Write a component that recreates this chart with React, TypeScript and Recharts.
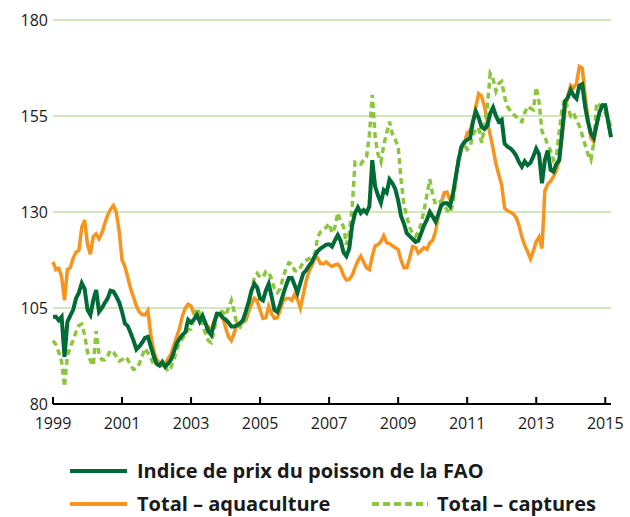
import React from "react";
import { LineChart, Line, XAxis, YAxis, CartesianGrid } from "recharts";

// Monthly values, Jan 1999 – Mar 2015
const faoIndex: number[] = [
  102.7, 102.7, 101.8, 102.7, 92.3, 101.4, 103, 104.5, 107.5, 109, 111.5, 110,
  104.5, 103.2, 107, 109.7, 104, 105, 106.3, 107.5, 109.5, 109.3, 108, 106.5,
  104, 101, 100.3, 98.5, 96.5, 94.2, 95, 96, 97.2, 97.5, 95, 92.5,
  90.5, 90, 91, 89.7, 90.5, 91.5, 93.5, 95.8, 97, 98, 98.7, 101.9,
  101.2, 102, 103.2, 101.5, 103, 101, 99, 98, 101, 103.5, 103.5, 102.5,
  102, 101.2, 100.2, 100.2, 100.5, 101, 101.8, 104, 106.5, 109.5, 111.3, 110.3,
  107.5, 107, 109.5, 111.3, 108, 104.5, 104, 106, 108.5, 110.8, 112.8, 112.8,
  111, 109, 111.5, 114, 114.8, 116, 117, 118.5, 119.8, 120.5, 121, 121.5,
  121.6, 121, 122.6, 124, 122.5, 119.5, 118.5, 120.5, 126.5, 129.7, 131.2, 129.7,
  130.5, 129.8, 131.5, 143.5, 136.6, 134.3, 132.4, 135.7, 135, 138.5, 137.5, 136,
  133, 129, 127, 124.5, 123.7, 123, 122.2, 122.5, 124.5, 126.5, 128, 130,
  128.8, 127.5, 129.5, 131.7, 132.3, 132.3, 131.5, 134.5, 139, 143.5, 147, 148.2,
  148.8, 149.2, 153.5, 156.2, 154.5, 152.2, 151.6, 152.5, 155.7, 157.2, 155, 153.5,
  154, 147.8, 147, 146.6, 145.8, 144.7, 143, 141.8, 143.2, 142.2, 142.8, 144.5,
  146.5, 145, 137.5, 143.5, 146, 141, 140.5, 142.5, 143.5, 150.8, 158.8, 159.8,
  161.8, 160.3, 159.5, 162.9, 163.3, 157.5, 153.5, 150.5, 149.3, 152.8, 156, 157.8,
  157.8, 153.5, 149.5,
];

const aquaculture: number[] = [
  117, 115, 115.3, 113.2, 107, 115, 115.5, 118, 119.5, 120, 126, 127.9,
  121.5, 119, 123.6, 124.3, 123, 124.5, 127, 129.2, 130.7, 131.7, 130, 125,
  117.5, 115.8, 113, 110, 107.8, 105.5, 104, 103.3, 103.2, 104.3, 98, 94,
  91.6, 90.7, 90, 90.5, 91.8, 93, 95.2, 97.5, 99.8, 103, 105, 106,
  105.5, 103.5, 102.7, 103.5, 102.5, 101, 100, 99.3, 101.5, 103.5, 103, 102.5,
  100, 97.5, 96.5, 98.5, 101, 101, 101.2, 101.7, 104, 106, 107.5, 106.8,
  104.5, 102.3, 102.5, 105.5, 103.5, 102.3, 102.5, 104.5, 106.8, 107.5, 107.5, 107,
  108.5, 107.2, 105, 108.5, 112, 114.5, 116, 118, 118, 116.5, 116.5, 117,
  116.3, 115.8, 116.2, 116.4, 115.5, 113.5, 112.3, 112.5, 113.5, 115.5, 117.3, 118.5,
  117, 115.5, 115, 118.5, 121.2, 121.5, 122.3, 123.8, 122, 121.8, 121.2, 120.7,
  120.2, 117.5, 115.5, 115.5, 118, 121, 120.8, 119.3, 120, 120.7, 120.3, 122,
  122.6, 125, 129, 132.5, 135, 135.2, 133.2, 134.5, 139, 143.5, 146.5, 147.8,
  150.6, 151.3, 153.5, 157.5, 160.8, 160.2, 157.5, 153.5, 150, 146.5, 142.5, 139.7,
  137, 131, 130.3, 130, 129.5, 128.6, 126.5, 123.6, 121.3, 119.7, 117.8, 119.8,
  122.3, 123.5, 120.5, 135.5, 137.2, 138, 139.2, 140.8, 143.5, 150, 156.3, 160.3,
  163, 162.3, 163.5, 167.9, 167.5, 160.5, 154, 149.4, 148.3, 152.5, 156, 157.8,
  157.8, 154, 149.5,
];

const captures: number[] = [
  96.5, 95.5, 93.5, 91, 84.5, 92.5, 95, 96.5, 98.8, 100.5, 100.8, 98,
  93.5, 91.3, 90, 99, 93, 91.5, 91.5, 92.5, 94, 93.5, 92.4, 91.2,
  91.5, 92.3, 91.6, 90, 89, 89.2, 90.5, 92.5, 94.5, 93.3, 92, 90.2,
  90.2, 90.2, 89.3, 89.7, 88.5, 89.5, 91.5, 94, 96, 97, 98.2, 99.3,
  99.5, 102.5, 105, 103.5, 100.5, 98.5, 96.5, 96, 99, 103.6, 104.3, 104,
  103, 105, 107, 104, 100.5, 100, 101.8, 102, 105, 109.5, 112.8, 114,
  113, 113, 114.5, 114.3, 112.5, 110, 109, 110, 113, 115.2, 116.8, 116.5,
  114.8, 114.5, 115.5, 117, 117.4, 117.8, 118.4, 119, 123.5, 124.8, 125.3, 126,
  127, 124.5, 126, 129.8, 127.5, 126.2, 121.5, 124.5, 131, 143, 143, 142.5,
  143.5, 144.3, 150, 160.5, 149.5, 145, 143, 147.5, 150.5, 153.5, 150.3, 148.8,
  147, 138.5, 132, 128.8, 126, 124.4, 123.6, 124.8, 127, 130.5, 134.5, 138.5,
  134.5, 132, 132.5, 132.8, 131.8, 130.5, 129.7, 132, 138, 144, 147, 147.5,
  146.3, 147, 150, 151.5, 152, 148, 152, 157.5, 166, 164.6, 161.5, 163.5,
  164, 160, 157.5, 156.3, 155.5, 154.8, 153.8, 153.5, 155.8, 157.5, 157, 156.6,
  162.5, 158.5, 151, 149.5, 147.5, 146, 143.5, 144.3, 151, 157, 159.5, 157,
  155, 155.8, 153.8, 152.5, 150, 147.5, 145, 143.5, 148, 158.5, 157.8, 157,
  155.8, 154.5, 152,
];

const xTicks: number[] = [1999, 2001, 2003, 2005, 2007, 2009, 2011, 2013, 2015];
const yTicks: number[] = [80, 105, 130, 155, 180];

const START_YEAR = 1999;
const data = faoIndex.map((v, i) => ({
  t: START_YEAR + i / 12,
  fao: v,
  aqua: aquaculture[i],
  capt: captures[i],
}));
const lastT = data[data.length - 1].t;

const FONT = "'Open Sans', sans-serif";
const DARK = "#006b35";
const ORANGE = "#f7941d";
const LIGHT = "#8cc63f";
const TEXT = "#1a1a1a";

const XTick = (props: any) => {
  const { x, y, payload } = props;
  return (
    <g>
      <line x1={x} x2={x} y1={y - 7} y2={y} stroke="#000" strokeWidth={2} />
      <text x={x} y={y + 25} textAnchor="middle" fontSize={16} fontFamily={FONT} fill={TEXT}>
        {payload.value}
      </text>
    </g>
  );
};

export default function App() {
  return (
    <div style={{ position: "absolute", left: 0, top: 0, width: 630, height: 517, background: "#fff" }}>
      <LineChart
        width={630}
        height={517}
        data={data}
        margin={{ top: 20, right: 19, bottom: 83, left: 0 }}
      >
        <CartesianGrid vertical={false} stroke="#c5e0a3" strokeWidth={1.5} />
        <XAxis
          dataKey="t"
          type="number"
          domain={[START_YEAR, lastT]}
          ticks={xTicks}
          interval={0}
          height={30}
          tickSize={0}
          tickMargin={0}
          tickLine={false}
          axisLine={{ stroke: "#000", strokeWidth: 2 }}
          tick={<XTick />}
        />
        <YAxis
          type="number"
          domain={[80, 180]}
          ticks={yTicks}
          width={53}
          axisLine={false}
          tickLine={false}
          tickSize={0}
          tickMargin={5}
          tick={{ fontSize: 16, fontFamily: FONT, fill: TEXT }}
        />
        <Line
          type="linear"
          dataKey="aqua"
          stroke={ORANGE}
          strokeWidth={3.5}
          dot={false}
          isAnimationActive={false}
        />
        <Line
          type="linear"
          dataKey="capt"
          stroke={LIGHT}
          strokeWidth={3.5}
          strokeDasharray="6 4"
          dot={false}
          isAnimationActive={false}
        />
        <Line
          type="linear"
          dataKey="fao"
          stroke={DARK}
          strokeWidth={4}
          dot={false}
          isAnimationActive={false}
        />
      </LineChart>
      <svg
        width={630}
        height={80}
        style={{ position: "absolute", left: 0, top: 437 }}
      >
        <line x1={70} x2={127} y1={34} y2={34} stroke={DARK} strokeWidth={4} />
        <text x={137} y={41} fontSize={20} fontWeight={700} fontFamily={FONT} fill={TEXT}>
          Indice de prix du poisson de la FAO
        </text>
        <line x1={70} x2={127} y1={67} y2={67} stroke={ORANGE} strokeWidth={4} />
        <text x={137} y={74} fontSize={20} fontWeight={700} fontFamily={FONT} fill={TEXT}>
          Total – aquaculture
        </text>
        <line x1={372} x2={428} y1={67} y2={67} stroke={LIGHT} strokeWidth={4} strokeDasharray="7 4" />
        <text x={437} y={74} fontSize={20} fontWeight={700} fontFamily={FONT} fill={TEXT}>
          Total – captures
        </text>
      </svg>
    </div>
  );
}
